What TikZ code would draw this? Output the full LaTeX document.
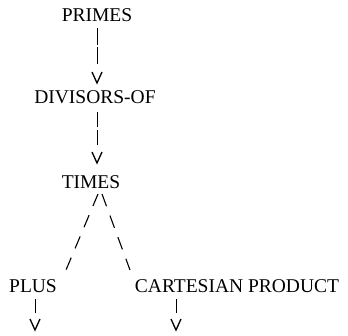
\documentclass[tikz,border=0pt]{standalone}
\usepackage{fontspec}
\setmainfont{Liberation Serif}
\begin{document}
\begin{tikzpicture}[x=1pt,y=-1pt,
  lbl/.style={inner sep=0pt,anchor=base,font=\fontsize{19.5}{20}\selectfont},
  bar/.style={line width=1pt,dash pattern=on 17pt off 2pt},
  vee/.style={line width=1.3pt,line join=miter},
  slash/.style={line width=1.1pt,dash pattern=on 13pt off 10pt}]
\useasboundingbox (0,0) rectangle (348,335);
\node[lbl] (primes) at (97,21.5) {PRIMES};
\node[lbl] (divisors) at (95,103) {DIVISORS-OF};
\node[lbl] (times) at (91,188) {TIMES};
\node[lbl] (plus) at (33,292) {PLUS};
\node[lbl] (cart) at (237,292) {CARTESIAN PRODUCT};
% PRIMES -> DIVISORS-OF
\coordinate (a1) at (97,28); \coordinate (a2) at (97,65); \coordinate (av) at (97,83);
\draw[bar] (a1) -- (a2);
\draw[vee] (av) ++(-5,-11) -- (av) -- ++(5,-11);
% DIVISORS-OF -> TIMES
\coordinate (b1) at (97,112); \coordinate (b2) at (97,145); \coordinate (bv) at (97,163);
\draw[line width=1pt,dash pattern=on 15pt off 3pt] (b1) -- (b2);
\draw[vee] (bv) ++(-5,-11) -- (bv) -- ++(5,-11);
% TIMES -> PLUS, CARTESIAN PRODUCT
\coordinate (t1) at (98,194); \coordinate (t2) at (102,194);
\coordinate (l2) at (66,270); \coordinate (r2) at (130,270);
\draw[slash] (t1) -- (l2);
\draw[slash] (t2) -- (r2);
% PLUS ->
\coordinate (p1) at (35,299); \coordinate (p2) at (35,313); \coordinate (pv) at (35,330);
\draw[line width=1pt] (p1) -- (p2);
\draw[vee] (pv) ++(-5,-11) -- (pv) -- ++(5,-11);
% CARTESIAN PRODUCT ->
\coordinate (c1) at (176,299); \coordinate (c2) at (176,313); \coordinate (cv) at (176,330);
\draw[line width=1pt] (c1) -- (c2);
\draw[vee] (cv) ++(-5,-11) -- (cv) -- ++(5,-11);
\end{tikzpicture}
\end{document}
